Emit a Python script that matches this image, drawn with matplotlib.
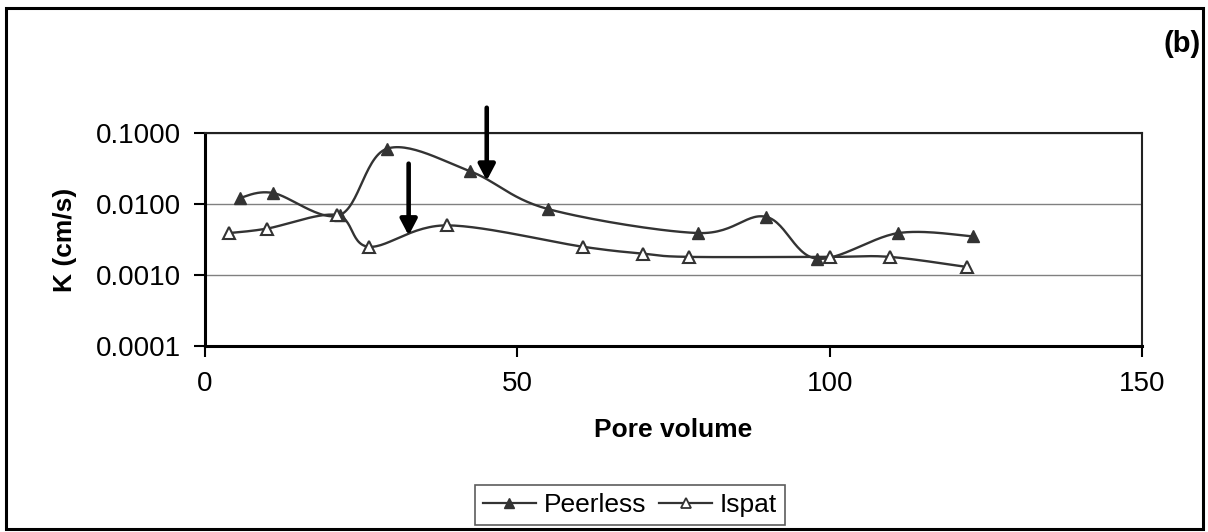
import numpy as np
import matplotlib.pyplot as plt
from matplotlib.patches import Rectangle
from matplotlib.ticker import FixedLocator, FixedFormatter, NullLocator

plt.rcParams['font.family'] = ['Liberation Sans', 'DejaVu Sans']

# Hydraulic conductivity vs pore volume
peerless_pv = [5.6, 10.9, 21.6, 29.1, 42.4, 54.9, 78.9, 89.8, 97.9, 111.0, 123.0]
peerless_k = [0.0122, 0.0143, 0.0070, 0.060, 0.029, 0.0085, 0.0039, 0.0066, 0.0017, 0.0039, 0.0035]

ispat_pv = [3.9, 9.9, 21.1, 26.2, 38.7, 60.5, 70.1, 77.4, 100.0, 109.6, 121.9]
ispat_k = [0.0039, 0.0045, 0.0070, 0.0025, 0.0050, 0.0025, 0.0020, 0.0018, 0.0018, 0.0018, 0.0013]

# arrows marking events: (pore volume, tail K, head K)
arrow_pv = [45.1, 32.6]
arrow_tail_k = [0.227, 0.037]
arrow_head_k = [0.0213, 0.0036]

y_ticks = [0.0001, 0.001, 0.01, 0.1]
y_labels = ['0.0001', '0.0010', '0.0100', '0.1000']
x_ticks = [0, 50, 100, 150]

LINE = '#333333'


def smooth(x, y, n=30):
    """Excel-style smoothed line: Catmull-Rom bezier in (x, log10 y)."""
    x = np.asarray(x, float)
    ly = np.log10(np.asarray(y, float))
    P = np.column_stack([x, ly])
    m = len(P)
    out = [P[0]]
    t = np.linspace(0, 1, n)[1:, None]
    for i in range(m - 1):
        p0 = P[max(i - 1, 0)]
        p1 = P[i]
        p2 = P[i + 1]
        p3 = P[min(i + 2, m - 1)]
        c1 = p1 + (p2 - p0) / 6.0
        c2 = p2 - (p3 - p1) / 6.0
        seg = ((1 - t) ** 3) * p1 + 3 * ((1 - t) ** 2) * t * c1 \
            + 3 * (1 - t) * t ** 2 * c2 + t ** 3 * p2
        out.extend(seg)
    out = np.array(out)
    return out[:, 0], 10 ** out[:, 1]


fig = plt.figure(figsize=(12.08, 5.32), dpi=100)
ax = fig.add_axes([0.1697, 0.3496, 0.9454 - 0.1697, 0.75 - 0.3496])

sx, sy = smooth(peerless_pv, peerless_k)
ax.plot(sx, sy, color=LINE, lw=1.7, zorder=3)
ax.plot(peerless_pv, peerless_k, ls='none', marker='^', ms=8.5,
        mfc=LINE, mec=LINE, zorder=4)

sx, sy = smooth(ispat_pv, ispat_k)
ax.plot(sx, sy, color=LINE, lw=1.7, zorder=3)
ax.plot(ispat_pv, ispat_k, ls='none', marker='^', ms=8.5,
        mfc='white', mec=LINE, mew=1.5, zorder=4)

for pv, k0, k1 in zip(arrow_pv, arrow_tail_k, arrow_head_k):
    ax.annotate('', xy=(pv, k1), xytext=(pv, k0), annotation_clip=False,
                arrowprops=dict(arrowstyle='-|>,head_length=0.95,head_width=0.5',
                                color='black', lw=3.3, shrinkA=0, shrinkB=0),
                zorder=5)

ax.set_yscale('log')
ax.set_ylim(0.0001, 0.1)
ax.set_xlim(0, 150)
ax.yaxis.set_major_locator(FixedLocator(y_ticks))
ax.yaxis.set_major_formatter(FixedFormatter(y_labels))
ax.yaxis.set_minor_locator(NullLocator())
ax.set_xticks(x_ticks)
ax.grid(True, axis='y', color='#808080', lw=1.0)
ax.set_axisbelow(True)
for s in ax.spines.values():
    s.set_color('#222222')
    s.set_linewidth(1.5)
ax.spines['left'].set_color('black')
ax.spines['bottom'].set_color('black')
ax.spines['left'].set_linewidth(2.2)
ax.spines['bottom'].set_linewidth(2.2)
ax.tick_params(axis='both', direction='out', length=8, width=1.5,
               labelsize=20)
ax.tick_params(axis='x', pad=10)
ax.tick_params(axis='y', pad=9)

ax.set_xlabel('Pore volume', fontsize=19, fontweight='bold', labelpad=15)
ax.set_ylabel('K (cm/s)', fontsize=19, fontweight='bold', labelpad=14)

fig.text(0.994, 0.918, '(b)', fontsize=21, fontweight='bold',
         ha='right', va='center')

h1, = ax.plot([], [], color=LINE, lw=1.6, marker='^', ms=7, mfc=LINE, mec=LINE)
h2, = ax.plot([], [], color=LINE, lw=1.6, marker='^', ms=6.5, mfc='white',
              mec=LINE, mew=1.3)
leg = fig.legend([h1, h2], ['Peerless', 'Ispat'], loc='center',
                 bbox_to_anchor=(630 / 1208, 1 - 505 / 532), ncol=2,
                 fontsize=19, frameon=True, fancybox=False, edgecolor='#333333',
                 handlelength=2.0, handletextpad=0.3, columnspacing=0.5,
                 borderpad=0.3, borderaxespad=0)
leg.get_frame().set_linewidth(1.2)

fig.patches.append(Rectangle((6 / 1208, 3 / 532), 1197 / 1208, 521 / 532,
                             transform=fig.transFigure, fill=False,
                             edgecolor='black', lw=2.2))

fig.savefig('out.png', dpi=100)
